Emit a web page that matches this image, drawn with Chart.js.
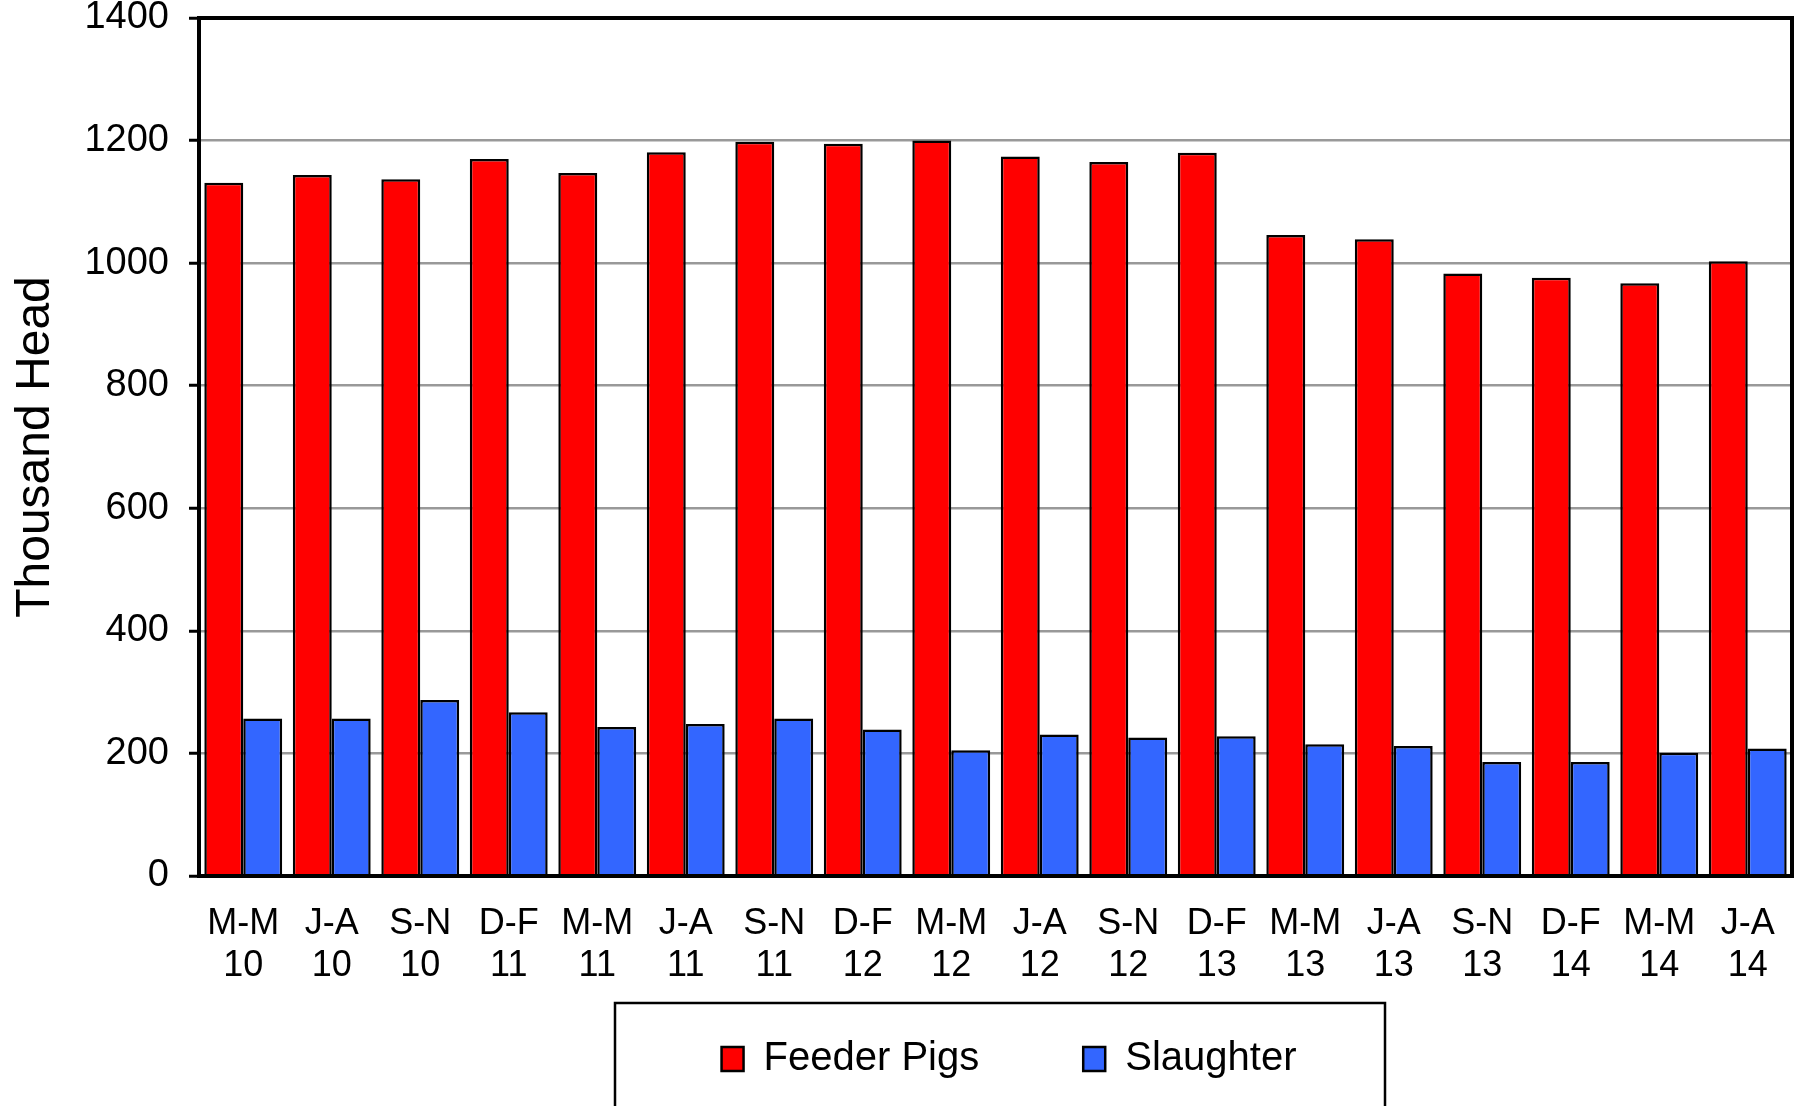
<!DOCTYPE html>
<html>
<head>
<meta charset="utf-8">
<script src="https://cdn.jsdelivr.net/npm/chart.js@4.4.1/dist/chart.umd.min.js"></script>
<style>
html,body{margin:0;padding:0;background:#fff;overflow:hidden}
#wrap{width:1804px;height:1106px}
</style>
</head>
<body>
<div id="wrap"><canvas id="hogChart"></canvas></div>
<script>
// periods (two-month spans, year)
const periods=[['M-M','10'],['J-A','10'],['S-N','10'],['D-F','11'],['M-M','11'],['J-A','11'],['S-N','11'],['D-F','12'],['M-M','12'],
 ['J-A','12'],['S-N','12'],['D-F','13'],['M-M','13'],['J-A','13'],['S-N','13'],['D-F','14'],['M-M','14'],['J-A','14']];
const feederPigs=[1131,1144,1137,1170,1147,1181,1198,1195,1200,1174,1165,1180,1046,1039,983,976,967,1003];
const slaughter=[257,257,287,267,243,248,257,239,205,231,226,228,215,212,186,186,201,208];
const yMin=0, yMax=1400, yStep=200;

const FONT='"Liberation Sans", Arial, sans-serif';

// top + right edge of the plot frame
const frame={
 id:'frame',
 afterDatasetsDraw(c){
  const a=c.chartArea, x=c.ctx;
  x.save();
  x.strokeStyle='#000'; x.lineWidth=4;
  x.beginPath();
  x.moveTo(a.left-2,a.top); x.lineTo(a.right,a.top); x.lineTo(a.right,a.bottom+2);
  x.stroke();
  x.restore();
 }
};

// legend sits right of centre and tucked up under the axis labels, with a box round it
const legendBox={
 id:'legendBox',
 afterLayout(c){
  const l=c.legend; if(!l) return;
  l.left+=226;
  l.top-=69; l.bottom-=69;
 },
 afterDraw(c){
  const l=c.legend; if(!l) return;
  const cx=(l.left+l.right)/2, x=c.ctx;
  x.save();
  x.strokeStyle='#000'; x.lineWidth=2.5;
  x.strokeRect(cx-394,l.top+68,770,200);
  x.restore();
 }
};

new Chart(document.getElementById('hogChart'),{
 type:'bar',
 data:{
  labels:periods,
  datasets:[
   {label:'Feeder Pigs',data:feederPigs,backgroundColor:'#ff0000',borderColor:'#000',borderWidth:2.5},
   {label:'Slaughter',data:slaughter,backgroundColor:'#3366ff',borderColor:'#000',borderWidth:2.5}
  ]
 },
 options:{
  responsive:true,maintainAspectRatio:false,animation:false,
  layout:{padding:{left:0,right:12,top:0,bottom:-52}},
  datasets:{bar:{categoryPercentage:0.88,barPercentage:1}},
  plugins:{
   tooltip:{enabled:false},
   legend:{
    position:'bottom',
    labels:{color:'#000',font:{family:FONT,size:40},boxWidth:22,boxHeight:24,padding:104}
   }
  },
  scales:{
   x:{
    grid:{display:false,drawTicks:false},
    border:{display:true,color:'#000',width:4,z:1},
    ticks:{color:'#000',font:{family:FONT,size:36,lineHeight:1.17},padding:27,maxRotation:0,autoSkip:false},
    afterFit(s){s.height=128;}
   },
   y:{
    min:yMin,max:yMax,
    grid:{color:'#999',lineWidth:2.5,tickColor:'#000',tickWidth:3,tickLength:10},
    border:{display:true,color:'#000',width:4,z:1},
    ticks:{stepSize:yStep,color:'#000',font:{family:FONT,size:38,lineHeight:1},padding:20,callback:v=>String(v)},
    title:{display:true,text:'Thousand Head',color:'#000',font:{family:FONT,size:48},padding:{top:7,bottom:4}},
    afterFit(s){s.width=199; s.paddingTop=18; s.paddingBottom=0;}
   }
  }
 },
 plugins:[frame,legendBox]
});
</script>
</body>
</html>
